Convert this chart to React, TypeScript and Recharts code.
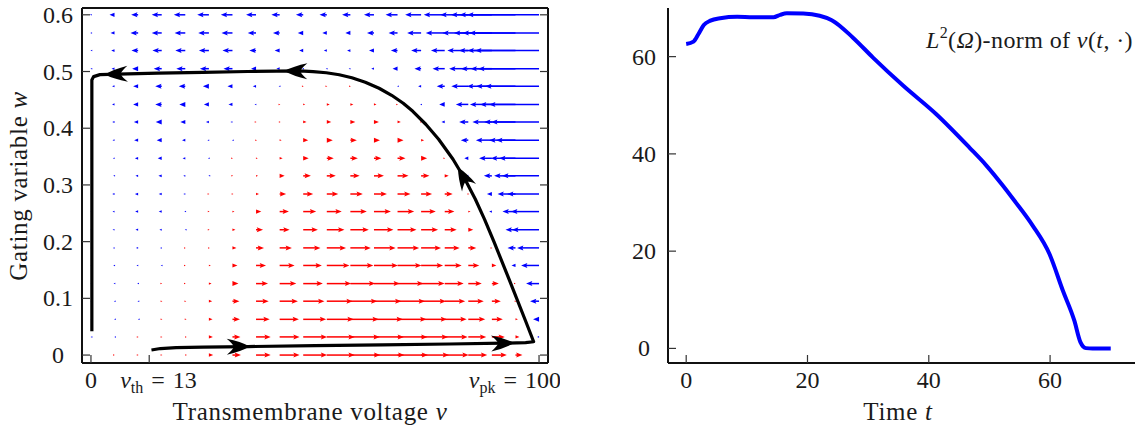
import { ComposedChart, LineChart, Line, XAxis, YAxis, ReferenceLine } from "recharts";

const SERIF = "'Liberation Serif', 'DejaVu Serif', serif";
const INK = "#000";
const TXT = "#1a1a1a";
const TICK = "#333";
const BLUE = "#0000ff";
const RED = "#ff0000";
const TICK_FS = 24;
const LABEL_FS = 25;

// ---------- left panel: phase plane (v, w) ----------
const V_GRID = [0, 5.26, 10.53, 15.79, 21.05, 26.32, 31.58, 36.84, 42.11, 47.37, 52.63, 57.89, 63.16, 68.42, 73.68, 78.95, 84.21, 89.47, 94.74, 100];
const W_GRID = [0, 0.032, 0.063, 0.095, 0.126, 0.158, 0.189, 0.221, 0.253, 0.284, 0.316, 0.347, 0.379, 0.411, 0.442, 0.474, 0.505, 0.537, 0.568, 0.6];

// horizontal field component on the grid, one row per w value (bottom to top)
const DV_ROWS = [
  [0, 0.3, 0.5, 0.7, 1.7, 4.3, 8.5, 14.7, 20, 24, 28, 30, 30.5, 30.5, 28, 24, 19, 15, 7, 0],
  [-0.4, -0.3, 0.5, 0.7, 1.5, 4, 8, 14.7, 20, 24, 28, 29.5, 30, 30, 27, 23, 18, 13, 4, -2],
  [-0.5, -0.5, -0.3, 0.7, 1.3, 3.7, 7.5, 13.7, 19.3, 23, 27, 28.5, 29, 29, 26, 22, 17, 11, 2.5, -6],
  [-0.5, -0.7, -0.7, 0.7, 1, 3.3, 7, 12.7, 18.3, 21.3, 26, 27, 27.5, 27.5, 25, 20.5, 15.5, 9, 1, -9],
  [-0.5, -1, -1, 0.5, 0.5, 2.7, 6, 12, 16.7, 19.7, 24.5, 25, 26, 26, 23.5, 19, 13.5, 7, 0.3, -13],
  [-0.5, -1.3, -1.7, -1, 0.5, 2, 5, 10, 15, 18.7, 22.7, 23, 24, 24, 22, 17, 11, 4.5, -4, -18],
  [-0.5, -1.7, -2.3, -1.7, 0.5, 1, 4, 8, 12.3, 17.3, 19.3, 20.5, 21.7, 21.7, 20, 15, 8, 0.5, -8, -22],
  [-0.5, -2, -2.7, -2.3, -0.5, 0.7, 3, 7, 10, 14.7, 17.7, 18.5, 19.5, 19, 17, 12, 5, 0, -10, -27],
  [-0.5, -2, -3, -3, -1, 0.7, 2, 5.3, 9.3, 13, 15, 16.5, 17, 16.7, 14.7, 9.7, 2.3, -2.7, -13, -28],
  [-0.5, -2.3, -3.3, -3, -2, 0.5, 1, 3, 6.5, 10, 11.5, 12.5, 13, 13, 11, 8, 1, -5, -18, -32],
  [-0.3, -1.3, -2.7, -3.3, -2, -0.5, 0.7, 2, 5, 7.7, 9, 9.3, 10, 11, 8.3, 4, -2.5, -8, -21.4, -37],
  [-0.3, -1.7, -3.3, -4, -2.7, -1, 0.5, 1.7, 3, 5.5, 7, 7.5, 7.5, 8, 6, 0.5, -4, -12.8, -24.7, -40],
  [-0.3, -2, -4, -5, -3.3, -1.5, -0.5, 1, 2, 5, 6, 6.5, 6, 6, 3, 0, -7.5, -16, -26.4, -43],
  [-0.3, -2.3, -4.3, -6, -5, -3, -2, 0.5, 1, 3.3, 4.5, 5, 5, 3.3, 1, -3.3, -9.2, -19.5, -31.4, -48],
  [-0.3, -2.5, -5, -6.5, -6, -5, -4, -1.5, 0.7, 2, 3, 3, 2.5, 0.5, -1, -5.5, -12.5, -22, -35.5, -50],
  [-0.3, -2.5, -5, -6.5, -6.5, -6, -5, -3.3, -1, 0.5, 0.5, 0.5, 0.5, -0.5, -3, -8, -17, -25, -39.5, -54],
  [-0.5, -3, -6, -8, -9, -9, -9, -5, -3.3, -1, -1, -1.7, -2.7, -5, -6.7, -12.2, -19.2, -31, -45, -61],
  [-0.5, -3.3, -6.7, -9.3, -10, -10, -10, -6.7, -5, -4, -3, -3.3, -5, -6.7, -10, -13.8, -21, -33, -48, -64],
  [-0.7, -4, -7.7, -10, -10.7, -10.7, -11, -8.3, -6.7, -5.5, -4.5, -5, -7, -9, -14, -19, -26, -38, -53, -70],
  [-1, -5, -7, -10, -11.5, -11.7, -11.7, -10, -8.3, -7.3, -7.3, -8.3, -10, -12, -16, -21, -28, -41, -56, -72],
];
const QUIVER_SCALE = 0.2227; // v-units per field unit

const V_TICKS = [0, 13, 100];
const V_TICK_SYM = ["", "v", "v"];
const V_TICK_SUB = ["", "th", "pk"];
const V_TICK_TEXT = ["0", "\u2004=\u200413", "\u2004=\u2004100"];
const W_TICKS = [0, 0.1, 0.2, 0.3, 0.4, 0.5, 0.6];
const W_TICK_LABELS = ["0", "0.1", "0.2", "0.3", "0.4", "0.5", "0.6"];

const TRAJ_V = [13.5, 15.5, 19, 25, 35, 50, 65, 80, 92, 97, 98.8, 97, 93.5, 89.93, 87.84, 85.79, 83.47, 80.8, 77.59, 74.72, 71.83, 69.69, 67.1, 64.3, 61.22, 58.22, 55.41, 52.52, 49.58, 46.55, 35, 25, 15, 6, 2, 0.6, 0.2, 0.2, 0.2, 0.2, 0.2];
const TRAJ_W = [0.009, 0.0115, 0.013, 0.014, 0.015, 0.0165, 0.018, 0.0195, 0.021, 0.022, 0.0235, 0.06, 0.13, 0.2, 0.2394, 0.2747, 0.31, 0.3453, 0.3805, 0.407, 0.4299, 0.444, 0.4581, 0.4705, 0.4811, 0.489, 0.4943, 0.4978, 0.4999, 0.501, 0.5, 0.4985, 0.497, 0.4955, 0.4945, 0.491, 0.485, 0.4, 0.25, 0.1, 0.042];

// arrowheads along the trajectory (from -> tip)
const HEAD_FROM_V = [30, 89, 85.79, 50, 8];
const HEAD_FROM_W = [0.0145, 0.0205, 0.2747, 0.5003, 0.4962];
const HEAD_TO_V = [35, 94, 82.14, 43.6, 3.5];
const HEAD_TO_W = [0.015, 0.0213, 0.3276, 0.5008, 0.4948];

// ---------- right panel: L2 norm over time ----------
const T_VALUES = [0, 1.2, 2, 2.9, 4, 5.6, 8.4, 11, 14.4, 15.5, 16.6, 19.3, 22, 24, 27.5, 30.8, 35.8, 41.2, 46.7, 49.5, 52.2, 54.1, 57.1, 59.9, 62.1, 64, 65, 65.9, 67, 70];
const NORM_VALUES = [62.6, 63.1, 64.6, 66.5, 67.4, 67.9, 68.2, 68.1, 68.1, 68.6, 68.9, 68.85, 68.4, 67.5, 63.9, 59.8, 54, 48.2, 41.3, 37.6, 33.5, 30.4, 25.3, 19.4, 11.9, 5.7, 1.3, 0.06, 0, 0];
const T_TICKS = [0, 20, 40, 60];
const N_TICKS = [0, 20, 40, 60];

const trajData = TRAJ_V.map((v, i) => ({ v, w: TRAJ_W[i] }));
const quiver = DV_ROWS.flatMap((row, i) =>
  row.map((dv, j) => ({ v: V_GRID[j], w: W_GRID[i], dv }))
).filter((a) => a.dv !== 0);
const normData = T_VALUES.map((t, i) => ({ t, norm: NORM_VALUES[i] }));

function QuiverArrow(props: any) {
  const { x1, y1, x2, y2, stroke } = props;
  const dx = x2 - x1;
  const len = Math.abs(dx);
  const d = dx >= 0 ? 1 : -1;
  const HL = 6, HW = 2.5;
  if (len < HL) {
    const s = Math.max(len / HL, 0.3);
    return (
      <polygon
        points={`${x2},${y2} ${x2 - d * HL * s},${y2 - HW * s} ${x2 - d * HL * s},${y2 + HW * s}`}
        fill={stroke}
      />
    );
  }
  return (
    <g>
      <line x1={x1} y1={y1} x2={x2 - d * HL * 0.8} y2={y2} stroke={stroke} strokeWidth={1.5} />
      <polygon
        points={`${x2},${y2} ${x2 - d * HL * 1.05},${y2 - HW} ${x2 - d * HL * 0.85},${y2} ${x2 - d * HL * 1.05},${y2 + HW}`}
        fill={stroke}
      />
    </g>
  );
}

function TrajHead(props: any) {
  const { x1, y1, x2, y2 } = props;
  const ang = (Math.atan2(y2 - y1, x2 - x1) * 180) / Math.PI;
  return (
    <path
      transform={`translate(${x2},${y2}) rotate(${ang})`}
      d="M2,0 Q-7,-5 -21,-8 Q-15,-3 -14,0 Q-15,3 -21,8 Q-7,5 2,0 Z"
      fill={INK}
    />
  );
}

function VTick(props: any) {
  const { x, y, index } = props;
  const anchor = index === 0 ? "middle" : index === 1 ? "start" : "end";
  const tx = index === 0 ? x : index === 1 ? x - 29 : x + 22;
  return (
    <g>
      <line x1={x} y1={y} x2={x} y2={y - 8} stroke={TICK} strokeWidth={1.2} />
      <text x={tx} y={y + 25} textAnchor={anchor} fontFamily={SERIF} fontSize={TICK_FS} fill={TXT}>
        {V_TICK_SYM[index] ? <tspan fontStyle="italic">{V_TICK_SYM[index]}</tspan> : null}
        {V_TICK_SUB[index] ? <tspan fontSize={16} dy={5}>{V_TICK_SUB[index]}</tspan> : null}
        <tspan dy={V_TICK_SUB[index] ? -5 : 0}>{V_TICK_TEXT[index]}</tspan>
      </text>
    </g>
  );
}

function VTickTop(props: any) {
  const { x, y } = props;
  return <line x1={x} y1={y} x2={x} y2={y + 8} stroke={TICK} strokeWidth={1.2} />;
}

function WTick(props: any) {
  const { x, y, index } = props;
  return (
    <g>
      <line x1={x} y1={y} x2={x + 8} y2={y} stroke={TICK} strokeWidth={1.2} />
      <text x={x - 24} y={y + 8} textAnchor="middle" fontFamily={SERIF} fontSize={TICK_FS} fill={TXT}>
        {W_TICK_LABELS[index]}
      </text>
    </g>
  );
}

function WTickRight(props: any) {
  const { x, y } = props;
  return <line x1={x} y1={y} x2={x - 8} y2={y} stroke={TICK} strokeWidth={1.2} />;
}

function TTick(props: any) {
  const { x, y, payload } = props;
  return (
    <g>
      <line x1={x} y1={y} x2={x} y2={y - 8} stroke={TICK} strokeWidth={1.2} />
      <text x={x} y={y + 25} textAnchor="middle" fontFamily={SERIF} fontSize={TICK_FS} fill={TXT}>
        {payload.value}
      </text>
    </g>
  );
}

function NTick(props: any) {
  const { x, y, payload } = props;
  return (
    <g>
      <line x1={x} y1={y} x2={x + 8} y2={y} stroke={TICK} strokeWidth={1.2} />
      <text x={x - 24} y={y + 8} textAnchor="middle" fontFamily={SERIF} fontSize={TICK_FS} fill={TXT}>
        {payload.value}
      </text>
    </g>
  );
}

const FRAME = { stroke: "#111", strokeWidth: 2 };

function PhasePlane() {
  return (
    <ComposedChart width={560} height={425} margin={{ top: 0, right: 0, bottom: 0, left: 0 }}>
      <XAxis type="number" dataKey="v" domain={[-2, 102]} ticks={V_TICKS} interval={0} height={62}
        tickSize={0} tickMargin={0} tickLine={false} axisLine={FRAME} tick={VTick} allowDataOverflow />
      <XAxis xAxisId="top" orientation="top" type="number" domain={[-2, 102]} ticks={V_TICKS} interval={0} height={8}
        tickSize={0} tickMargin={0} tickLine={false} axisLine={FRAME} tick={VTickTop} allowDataOverflow />
      <YAxis type="number" dataKey="w" domain={[-0.014, 0.612]} ticks={W_TICKS} interval={0} width={82}
        tickSize={0} tickMargin={0} tickLine={false} axisLine={FRAME} tick={WTick} allowDataOverflow />
      <YAxis yAxisId="right" orientation="right" type="number" domain={[-0.014, 0.612]} ticks={W_TICKS} interval={0} width={12}
        tickSize={0} tickMargin={0} tickLine={false} axisLine={FRAME} tick={WTickRight} allowDataOverflow />
      {quiver.map((a, k) => (
        <ReferenceLine
          key={`q${k}`}
          segment={[{ x: a.v, y: a.w }, { x: a.v + a.dv * QUIVER_SCALE, y: a.w }]}
          stroke={a.dv > 0 ? RED : BLUE}
          ifOverflow="visible"
          shape={QuiverArrow}
        />
      ))}
      <Line data={trajData} dataKey="w" type="linear" stroke={INK} strokeWidth={3.2} strokeLinejoin="round"
        dot={false} activeDot={false} isAnimationActive={false} />
      {HEAD_TO_V.map((v, k) => (
        <ReferenceLine
          key={`h${k}`}
          segment={[{ x: HEAD_FROM_V[k], y: HEAD_FROM_W[k] }, { x: v, y: HEAD_TO_W[k] }]}
          stroke={INK}
          ifOverflow="visible"
          shape={TrajHead}
        />
      ))}
    </ComposedChart>
  );
}

function NormChart() {
  return (
    <LineChart width={561} height={425} data={normData} margin={{ top: 8, right: 6, bottom: 0, left: 0 }}>
      <XAxis type="number" dataKey="t" domain={[-3, 74]} ticks={T_TICKS} interval={0} height={62}
        tickSize={0} tickMargin={0} tickLine={false} axisLine={FRAME} tick={TTick} allowDataOverflow />
      <YAxis type="number" domain={[-3, 70]} ticks={N_TICKS} interval={0} width={88}
        tickSize={0} tickMargin={0} tickLine={false} axisLine={FRAME} tick={NTick} allowDataOverflow />
      <Line dataKey="norm" type="monotone" stroke={BLUE} strokeWidth={4} dot={false} activeDot={false}
        isAnimationActive={false} />
    </LineChart>
  );
}

export default function App() {
  return (
    <div style={{ position: "absolute", left: 0, top: 0, width: 1141, height: 425, background: "#fff", overflow: "hidden" }}>
      <div style={{ position: "absolute", left: 0, top: 0 }}>
        <PhasePlane />
      </div>
      <div style={{ position: "absolute", left: 580, top: 0 }}>
        <NormChart />
      </div>
      <svg width={1141} height={425} style={{ position: "absolute", left: 0, top: 0, pointerEvents: "none" }}>
        <text transform="translate(27,186) rotate(-90)" textAnchor="middle" fontFamily={SERIF} fontSize={LABEL_FS}
          letterSpacing={0.7} fill={TXT}>
          Gating variable <tspan fontStyle="italic">w</tspan>
        </text>
        <text x={310} y={420} textAnchor="middle" fontFamily={SERIF} fontSize={LABEL_FS} letterSpacing={0.7} fill={TXT}>
          Transmembrane voltage <tspan fontStyle="italic">v</tspan>
        </text>
        <text x={898} y={420} textAnchor="middle" fontFamily={SERIF} fontSize={LABEL_FS} letterSpacing={0.7} fill={TXT}>
          Time <tspan fontStyle="italic">t</tspan>
        </text>
        <text x={1133} y={48} textAnchor="end" fontFamily={SERIF} fontSize={24} letterSpacing={0.4} fill={TXT}>
          <tspan fontStyle="italic">L</tspan>
          <tspan fontSize={16} dy={-10}>2</tspan>
          <tspan dy={10}>(</tspan>
          <tspan fontStyle="italic">Ω</tspan>
          <tspan>)-norm of </tspan>
          <tspan fontStyle="italic">v</tspan>
          <tspan>(</tspan>
          <tspan fontStyle="italic">t</tspan>
          <tspan>, ·)</tspan>
        </text>
      </svg>
    </div>
  );
}
